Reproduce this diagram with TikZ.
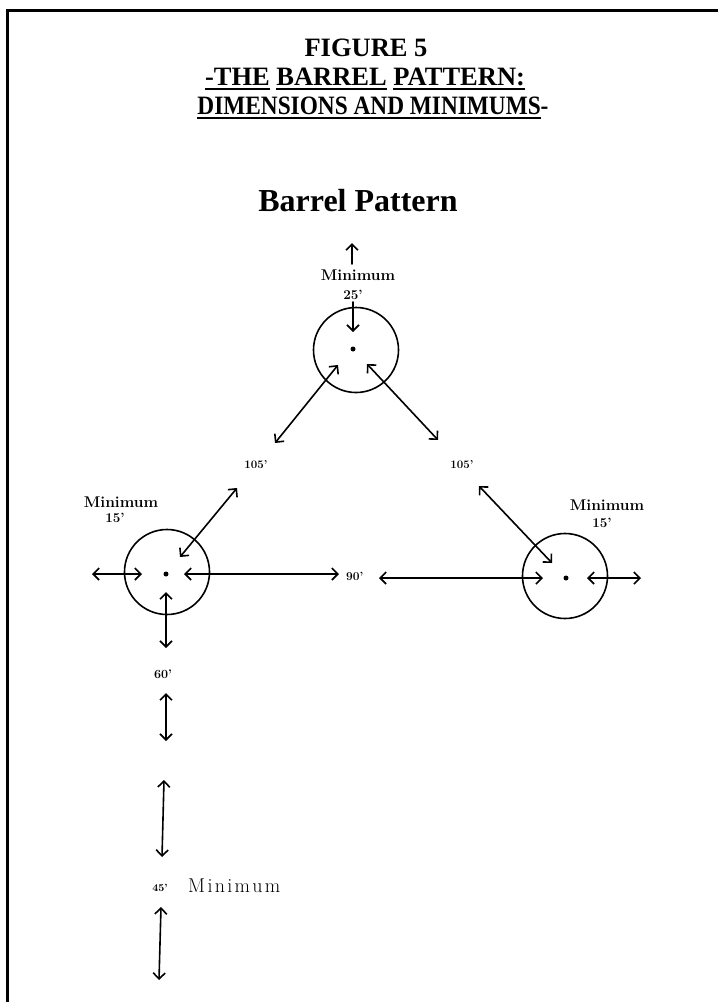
\documentclass[tikz,border=0pt]{standalone}
\usepackage{fontspec}
\newfontfamily\tnr{Liberation Serif}
\usetikzlibrary{arrows.meta}
\newcommand\ulw[1]{\setbox0\hbox{#1}\rlap{\rule[-4.5pt]{\wd0}{2pt}}\box0}
\newcommand\gp{\kern2.3pt}
\begin{document}
\begin{tikzpicture}[x=1pt,y=-1pt,line cap=round,
  barb/.tip={Straight Barb[length=6pt,width=12pt]},
  dim/.style={line width=1.6pt,barb-barb},
  one/.style={line width=1.6pt,-barb},
  ring/.style={circle,draw,line width=1.6pt,minimum size=85pt,inner sep=0},
  dot/.style={circle,fill,inner sep=0,minimum size=5pt},
  title/.style={font=\tnr\bfseries\fontsize{26.5}{30}\selectfont,inner sep=0,anchor=base},
  lab/.style={font=\bfseries\fontsize{15.5}{18}\selectfont,inner sep=0,anchor=base},
  num/.style={font=\bfseries\fontsize{13.5}{16}\selectfont,inner sep=0,anchor=base}]
\useasboundingbox (0,0) rectangle (718,1002);
\draw[line width=2.7pt,line cap=butt] (7.3,1002) -- (7.3,10.3) -- (718,10.3);
% titles
\node[title] (fig) at (366,56) {FIGURE 5};
\node[title] (t2) at (365,85) {\ulw{-THE}\ \ulw{BARREL}\ \ulw{PATTERN:}};
\node[title] (t3) at (373,114) {\scalebox{.88}[1]{\ulw{DIMENSIONS AND MINIMUMS}-}};
\node[font=\tnr\bfseries\fontsize{32}{36}\selectfont,inner sep=0,anchor=base] (bp) at (358,211) {Barrel Pattern};
% circles
\node[ring] (ct) at (356,350) {};
\node[dot] (dt) at (353,349) {};
\node[ring] (cl) at (167,572) {};
\node[dot] (dl) at (166,574) {};
\node[ring] (cr) at (565,576) {};
\node[dot] (dr) at (566,578) {};
% labels
\node[lab] (mt) at (358,280) {Minimum};
\node[num] (n25) at (353,299) {25'};
\node[lab] (ml) at (121,507) {Minimum};
\node[num] (n15l) at (115,522) {15'};
\node[lab] (mr) at (607,510) {Minimum};
\node[num] (n15r) at (602,527) {15'};
\node[num,font=\bfseries\fontsize{11.5}{14}\selectfont] (d105l) at (256,468) {105'};
\node[num,font=\bfseries\fontsize{11.5}{14}\selectfont] (d105r) at (462,468) {105'};
\node[num,anchor=base west,font=\bfseries\fontsize{12}{14}\selectfont] (d90) at (346,580) {90'};
\node[num,font=\bfseries\fontsize{12.5}{14}\selectfont] (d60) at (163,678) {60'};
\node[num,font=\bfseries\fontsize{10.5}{12}\selectfont] (d45) at (160,891) {45'};
\node[inner sep=0,anchor=base west,font=\fontsize{20}{22}\selectfont] (mb) at (188,892) {M\gp i\gp n\gp i\gp m\gp u\gp m};
% arrow end points
\coordinate (a1) at (352,264); \coordinate (a2) at (352,243);
\coordinate (b1) at (353,302); \coordinate (b2) at (353,332);
\coordinate (c1) at (338,365); \coordinate (c2) at (275,443);
\coordinate (e1) at (367,364); \coordinate (e2) at (438,440);
\coordinate (f1) at (237,488); \coordinate (f2) at (180,557);
\coordinate (g1) at (479,486); \coordinate (g2) at (552,563);
\coordinate (h1) at (92,574);  \coordinate (h2) at (142,574);
\coordinate (i1) at (184,574); \coordinate (i2) at (339,574);
\coordinate (j1) at (166,592); \coordinate (j2) at (166,648);
\coordinate (k1) at (379,578); \coordinate (k2) at (543,578);
\coordinate (l1) at (587,578); \coordinate (l2) at (641,578);
\coordinate (p1) at (166,693); \coordinate (p2) at (166,741);
\coordinate (q1) at (164,780); \coordinate (q2) at (162,857);
\coordinate (r1) at (161,907); \coordinate (r2) at (159,980);
% arrows
\draw[one] (a1) -- (a2);
\draw[one] (b1) -- (b2);
\draw[dim] (c1) -- (c2);
\draw[dim] (e1) -- (e2);
\draw[dim] (f1) -- (f2);
\draw[dim] (g1) -- (g2);
\draw[dim] (h1) -- (h2);
\draw[dim] (i1) -- (i2);
\draw[dim] (j1) -- (j2);
\draw[dim] (k1) -- (k2);
\draw[dim] (l1) -- (l2);
\draw[dim] (p1) -- (p2);
\draw[dim] (q1) -- (q2);
\draw[dim] (r1) -- (r2);
\end{tikzpicture}
\end{document}
